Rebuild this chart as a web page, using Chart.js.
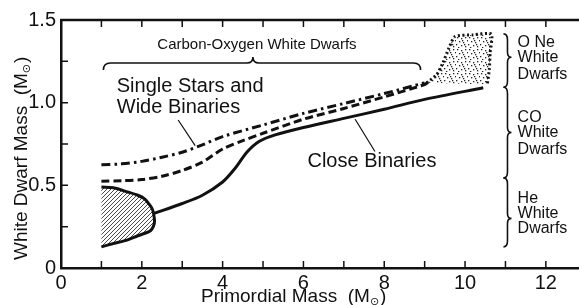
<!DOCTYPE html>
<html>
<head>
<meta charset="utf-8">
<script src="https://cdn.jsdelivr.net/npm/chart.js@4/dist/chart.umd.min.js"></script>
<style>
  html, body { margin: 0; padding: 0; background: #fff; }
  #wrap { width: 579px; height: 305px; }
</style>
</head>
<body>
<div id="wrap"><canvas id="wdChart" width="579" height="305"></canvas></div>
<script>
// Primordial mass (x) vs white dwarf mass (y)
const singleStarsX = [1, 1.5, 2, 2.5, 3, 3.5, 4, 5, 6, 7, 8, 9];
const singleStarsY = [0.625, 0.63, 0.645, 0.67, 0.70, 0.745, 0.795, 0.865, 0.935, 0.995, 1.055, 1.12];

const wideBinX = [1, 1.5, 2, 2.5, 3, 3.5, 4, 4.5, 5, 6, 7, 8, 9, 9.1];
const wideBinY = [0.525, 0.528, 0.535, 0.555, 0.59, 0.64, 0.72, 0.77, 0.815, 0.90, 0.965, 1.035, 1.11, 1.125];

const closeBinX = [2.3, 3, 3.5, 4, 4.3, 4.6, 4.9, 5.3, 6, 7, 8, 9, 10.45];
const closeBinY = [0.33, 0.39, 0.44, 0.52, 0.60, 0.70, 0.765, 0.805, 0.85, 0.905, 0.96, 1.02, 1.09];

// hatched He white dwarf region (closed outline, left edge open)
const heRegionX = [1, 1.3, 1.65, 1.9, 2.06, 2.2, 2.27, 2.31, 2.31, 2.25, 2.18, 1.9, 1.65, 1.3, 1];
const heRegionY = [0.49, 0.485, 0.46, 0.44, 0.42, 0.38, 0.35, 0.30, 0.27, 0.235, 0.22, 0.195, 0.17, 0.148, 0.128];

// stippled ONe white dwarf region
const oneRegionX = [9.05, 9.3, 9.45, 9.6, 9.75, 10.2, 10.65, 10.62, 10.6, 10.55];
const oneRegionY = [1.12, 1.17, 1.24, 1.33, 1.40, 1.41, 1.415, 1.3, 1.2, 1.11];

const xTickValues = [0, 2, 4, 6, 8, 10, 12];
const yTickLabels = ['0', '0.5', '1.0', '1.5'];

const FONT = 'Liberation Sans, Arial, sans-serif';
const NARROW = 'Liberation Sans Narrow, Liberation Sans, sans-serif';
const toPts = (xs, ys) => xs.map((x, i) => ({ x: x, y: ys[i] }));

function makeHatch() {
    const c = document.createElement('canvas');
    c.width = 4; c.height = 4;
    const g = c.getContext('2d');
    g.strokeStyle = '#333';
    g.lineWidth = 0.9;
    g.beginPath();
    g.moveTo(-1, 5); g.lineTo(5, -1);
    g.moveTo(-1, 1); g.lineTo(1, -1);
    g.moveTo(3, 5); g.lineTo(5, 3);
    g.stroke();
    return g.createPattern(c, 'repeat');
}

function makeStipple() {
    const c = document.createElement('canvas');
    c.width = 12; c.height = 12;
    const g = c.getContext('2d');
    g.fillStyle = '#222';
    const dots = [[1,1],[5,2],[9,1],[3,5],[7,6],[11,4],[0,8],[5,9],[9,10],[2,11],[8,8],[6,4]];
    dots.forEach(d => g.fillRect(d[0], d[1], 1.3, 1.3));
    return g.createPattern(c, 'repeat');
}

function hBrace(ctx, x1, x2, y, xm) {
    ctx.beginPath();
    ctx.moveTo(x1, y + 7);
    ctx.quadraticCurveTo(x1, y, x1 + 7, y);
    ctx.lineTo(xm - 6, y);
    ctx.quadraticCurveTo(xm, y, xm, y - 6);
    ctx.quadraticCurveTo(xm, y, xm + 6, y);
    ctx.lineTo(x2 - 7, y);
    ctx.quadraticCurveTo(x2, y, x2, y + 7);
    ctx.stroke();
}

function vBrace(ctx, x, y1, y2, ym) {
    ctx.beginPath();
    ctx.moveTo(x - 4, y1);
    ctx.quadraticCurveTo(x, y1, x, y1 + 6);
    ctx.lineTo(x, ym - 5);
    ctx.quadraticCurveTo(x, ym, x + 4, ym);
    ctx.quadraticCurveTo(x, ym, x, ym + 5);
    ctx.lineTo(x, y2 - 6);
    ctx.quadraticCurveTo(x, y2, x - 4, y2);
    ctx.stroke();
}

const decorations = {
    id: 'decorations',
    afterDraw(chart) {
        const ctx = chart.ctx;
        const xs = chart.scales.x, ys = chart.scales.y;
        const a = chart.chartArea;
        const px = v => xs.getPixelForValue(v);
        const py = v => ys.getPixelForValue(v);
        ctx.save();
        ctx.strokeStyle = '#111';
        ctx.fillStyle = '#111';

        // top frame
        ctx.lineWidth = 2.5;
        ctx.beginPath();
        ctx.moveTo(a.left - 1, a.top); ctx.lineTo(a.right, a.top);
        ctx.stroke();

        // inward ticks
        ctx.lineWidth = 1.5;
        ctx.beginPath();
        for (let v = 1; v <= 12; v++) {
            ctx.moveTo(px(v), a.bottom); ctx.lineTo(px(v), a.bottom - 7);
            ctx.moveTo(px(v), a.top); ctx.lineTo(px(v), a.top + 7);
        }
        for (let v = 0.25; v < 1.5; v += 0.25) {
            ctx.moveTo(a.left, py(v)); ctx.lineTo(a.left + 7, py(v));
        }
        ctx.stroke();

        // braces
        ctx.lineWidth = 1.6;
        hBrace(ctx, px(1.05), px(8.9), py(1.24), px(4.75));
        vBrace(ctx, px(11.05), py(1.416), py(1.093), py(1.275));
        vBrace(ctx, px(11.05), py(1.093), py(0.545), py(0.82));
        vBrace(ctx, px(11.05), py(0.545), py(0.128), py(0.30));

        // leader lines
        ctx.lineWidth = 1.2;
        ctx.beginPath();
        ctx.moveTo(px(2.9), py(0.895)); ctx.lineTo(px(3.32), py(0.74));
        ctx.moveTo(px(7.28), py(0.90)); ctx.lineTo(px(7.77), py(0.705));
        ctx.stroke();

        // annotation text
        ctx.textBaseline = 'middle';
        ctx.textAlign = 'center';
        ctx.font = '15px ' + FONT;
        ctx.fillText('Carbon-Oxygen White Dwarfs', px(4.85), py(1.35));
        ctx.textAlign = 'left';
        ctx.font = '20px ' + FONT;
        ctx.fillText('Single Stars and', px(1.38), py(1.095));
        ctx.fillText('Wide Binaries', px(1.38), py(0.97));
        ctx.fillText('Close Binaries', px(6.1), py(0.645));
        ctx.font = '16px ' + FONT;
        const lx = px(11.3);
        ctx.fillText('O Ne', lx, py(1.365));
        ctx.fillText('White', lx, py(1.275));
        ctx.fillText('Dwarfs', lx, py(1.172));
        ctx.fillText('CO', lx, py(0.91));
        ctx.fillText('White', lx, py(0.82));
        ctx.fillText('Dwarfs', lx, py(0.715));
        ctx.fillText('He', lx, py(0.42));
        ctx.fillText('White', lx, py(0.33));
        ctx.fillText('Dwarfs', lx, py(0.24));

        // axis titles with subscript sun symbol
        function titleWithSub(text, x, y) {
            ctx.textAlign = 'left';
            ctx.font = '19px ' + FONT;
            ctx.fillText(text, x, y);
            let w = ctx.measureText(text).width;
            ctx.font = '11px DejaVu Sans';
            ctx.fillText('\u2299', x + w, y + 5);
            w += ctx.measureText('\u2299').width;
            ctx.font = '19px ' + FONT;
            ctx.fillText(')', x + w + 1, y);
        }
        titleWithSub('Primordial Mass  (M', 201, 297);

        ctx.translate(22, 260);
        ctx.rotate(-Math.PI / 2);
        titleWithSub('White Dwarf Mass  (M', 0, 0);
        ctx.restore();
    }
};

const ctx = document.getElementById('wdChart').getContext('2d');
new Chart(ctx, {
    type: 'scatter',
    data: {
        datasets: [
            {
                label: 'He region',
                data: toPts(heRegionX, heRegionY),
                showLine: true,
                borderColor: '#111',
                borderWidth: 3,
                backgroundColor: makeHatch(),
                fill: 'shape',
                tension: 0.3,
                pointRadius: 0
            },
            {
                label: 'ONe region',
                data: toPts(oneRegionX, oneRegionY),
                showLine: true,
                borderColor: '#111',
                borderWidth: 3,
                borderDash: [2, 2.5],
                backgroundColor: makeStipple(),
                fill: 'shape',
                tension: 0.2,
                pointRadius: 0
            },
            {
                label: 'Single Stars',
                data: toPts(singleStarsX, singleStarsY),
                showLine: true,
                borderColor: '#111',
                borderWidth: 3,
                borderDash: [9, 4, 2.5, 4],
                tension: 0.3,
                fill: false,
                pointRadius: 0
            },
            {
                label: 'Wide Binaries',
                data: toPts(wideBinX, wideBinY),
                showLine: true,
                borderColor: '#111',
                borderWidth: 3,
                borderDash: [8, 4],
                tension: 0.3,
                fill: false,
                pointRadius: 0
            },
            {
                label: 'Close Binaries',
                data: toPts(closeBinX, closeBinY),
                showLine: true,
                borderColor: '#111',
                borderWidth: 3,
                tension: 0.3,
                fill: false,
                pointRadius: 0
            }
        ]
    },
    options: {
        responsive: false,
        animation: false,
        layout: { padding: { top: 20, right: 0, left: 0, bottom: 0 } },
        plugins: {
            legend: { display: false },
            tooltip: { enabled: false }
        },
        scales: {
            x: {
                type: 'linear',
                min: 0,
                max: 12.82,
                afterFit: s => { s.height = 37; },
                grid: { display: false, drawTicks: false },
                border: { display: true, color: '#111', width: 2.5 },
                ticks: {
                    stepSize: 1,
                    includeBounds: false,
                    autoSkip: false,
                    maxRotation: 0,
                    padding: 3,
                    color: '#111',
                    font: { family: NARROW, size: 20 },
                    callback: v => xTickValues.includes(v) ? String(v) : ''
                }
            },
            y: {
                type: 'linear',
                min: 0,
                max: 1.5,
                afterFit: s => { s.width = 61; },
                grid: { display: false, drawTicks: false },
                border: { display: true, color: '#111', width: 2.5 },
                ticks: {
                    stepSize: 0.5,
                    padding: 5,
                    color: '#111',
                    font: { family: NARROW, size: 20 },
                    callback: (v, i) => yTickLabels[i]
                }
            }
        }
    },
    plugins: [decorations]
});
</script>
</body>
</html>
